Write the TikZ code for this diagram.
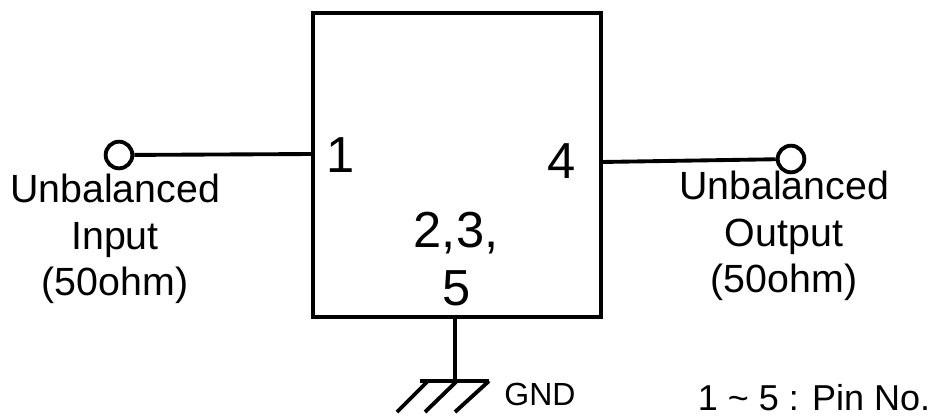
\documentclass[tikz,border=0pt]{standalone}
\usepackage{fontspec}
\setmainfont{Liberation Sans}
\tikzset{
 wire/.style={line width=2.9pt},
 pin/.style={circle,draw,line width=2.9pt,fill=white,minimum size=20pt,inner sep=0pt},
 big/.style={inner sep=0pt,font=\fontsize{38}{38}\selectfont},
 lab/.style={inner sep=0pt,align=center,font=\fontsize{29.5}{35}\selectfont},
}
\begin{document}
\begin{tikzpicture}[x=0.75pt,y=-0.75pt]
\useasboundingbox (0,0) rectangle (949,415);
\node[draw,line width=3pt,outer sep=0pt,minimum width=216pt,minimum height=228pt,inner sep=0pt,anchor=north west] (box) at (313,13) {};
\node[pin] (in) at (119,155) {};
\node[pin] (out) at (791,159) {};
\coordinate (inb) at (313,154);
\coordinate (outb) at (601,162);
\draw[wire] (in) -- (inb);
\draw[wire] (out) -- (outb);
\node[lab] (il) at (115,239) {Unbalanced\\Input\\(50ohm)};
\node[lab] (ol) at (784,236) {Unbalanced\\Output\\(50ohm)};
\node[big] (p1) at (341,155) {1};
\node[big] (p4) at (562,161) {4};
\node[big] (p23) at (456,233) {2,3,};
\node[big] (p5) at (457,288) {5};
\coordinate (gt) at (455,317);
\coordinate (gb) at (455,381);
\draw[wire] (gt) -- (gb);
\coordinate (ga) at (420,381);
\coordinate (gd) at (428,381);
\coordinate (ge) at (457,381);
\coordinate (gc) at (489,381);
\coordinate (g1) at (397,412);
\coordinate (g2) at (425,412);
\coordinate (g3) at (455,412);
\draw[wire] (ga) -- (gc);
\draw[wire] (gd) -- (g1);
\draw[wire] (ge) -- (g2);
\draw[wire] (gc) -- (g3);
\node[inner sep=0pt,font=\fontsize{24}{28}\selectfont] (gnd) at (540,394) {GND};
\node[inner sep=0pt,font=\fontsize{27}{30}\selectfont] (note) at (814,398) {1 \textasciitilde{} 5 : Pin No.};
\end{tikzpicture}
\end{document}
